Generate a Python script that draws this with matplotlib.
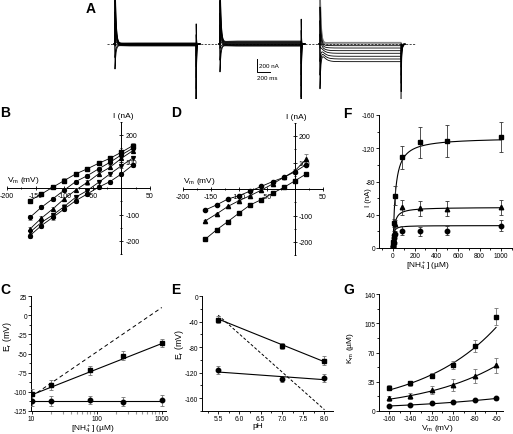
import numpy as np
import matplotlib
matplotlib.use("Agg")
import matplotlib.pyplot as plt
from matplotlib.ticker import MultipleLocator, FixedLocator, LogLocator, NullFormatter

plt.rcParams.update({"font.family": ["Liberation Sans", "DejaVu Sans"],
                     "font.size": 5.5, "axes.unicode_minus": False,
                     "mathtext.fontset": "custom",
                     "mathtext.rm": "Liberation Sans",
                     "mathtext.it": "Liberation Sans:italic",
                     "axes.linewidth": 0.7})

W, H = 513, 435

# ---- A: current traces (steady-state levels, nA) ---------------------------
A_T_ON = [231, 1848, 3388]           # ms, pulse onsets
A_DUR = 1250                         # ms
A_SS1 = [15, 10, 5, 0, -3, -7, -12, -18, -24, -30]
A_SS2 = [45, 35, 25, 15, 5, -3, -10, -18, -25, -32]
A_SS3 = [26, 15, 0, -26, -62, -103, -143, -189, -231, -272]
A_ON_UP = [1200, 1200, 1200]         # capacitive transient extremes
A_ON_DN = [-385, -430, -690]
A_OFF_UP = [340, 415, 277]
A_OFF_DN = [-1200, -1200, -1200]

# ---- B: I-V curves ---------------------------------------------------------
B_V = [-160, -140, -120, -100, -80, -60, -40, -20, 0, 20]
B_S1 = [-48, -23, 3, 28, 53, 72, 93, 112, 135, 160]
B_S2 = [-111, -73, -41, -8, 24, 46, 72, 97, 125, 150]
B_S3 = [-155, -114, -79, -41, -8, 21, 53, 78, 112, 141]
B_S4 = [-167, -130, -102, -70, -35, -10, 21, 53, 84, 113]
B_S5 = [-180, -142, -111, -79, -48, -23, 3, 24, 53, 87]
B_ERR = 8

# ---- D: I-V at different pH -----------------------------------------------
D_V = B_V
D_CIRC = [-79, -60, -38, -25, -8, 10, 28, 44, 65, 92]
D_TRI = [-120, -94, -66, -44, -25, -4, 19, 44, 69, 112]
D_SQ = [-189, -154, -123, -91, -60, -40, -16, 6, 31, 57]
D_TRI_ERR = [3, 3, 3, 3, 3, 3, 3, 4, 5, 20]

# ---- C: Er vs [NH4+] -------------------------------------------------------
C_X = [10, 20, 80, 250, 1000]
C_SQ = [-103, -91, -72, -53, -36]
C_SQ_ERR = [7, 6, 6, 6, 5]
C_CIRC = [-112, -112, -111, -113, -111]
C_CIRC_ERR = [6, 6, 5, 6, 7]
C_FIT_X = [10, 1000]
C_FIT_SQ = [-104, -37]
C_FIT_CIRC = [-112, -112]
C_NERNST = [-106, 10]

# ---- E: Er vs pH -----------------------------------------------------------
E_PH = [5.5, 7.0, 8.0]
E_SQ = [-37, -78, -101]
E_SQ_ERR = [5, 5, 7]
E_CIRC = [-116, -130, -128]
E_CIRC_ERR = [6, 4, 6]
E_FIT_X = [5.5, 8.0]
E_FIT_SQ = [-36, -103]
E_FIT_CIRC = [-119, -131]
E_NERNST = [-30, -178]

# ---- F: I vs [NH4+] --------------------------------------------------------
F_X = [1, 2.5, 5, 10, 20, 80, 250, 500, 1000]
F_SQ = [-3, -7, -14, -30, -63, -109, -127, -129, -133]
F_SQ_ERR = [1, 2, 3, 5, 11, 14, 19, 19, 18]
F_TRI = [-2, -5, -10, -18, -29, -49, -48, -47, -49]
F_TRI_ERR = [1, 1, 2, 3, 5, 9, 9, 9, 9]
F_CIRC = [-1, -3, -6, -12, -17, -21, -20, -21, -27]
F_CIRC_ERR = [0.5, 1, 1, 2, 3, 5, 5, 5, 7]
F_IMAX = [-133, -49, -27]
F_KM = [22, 12, 5]

# ---- G: Km vs Vm -----------------------------------------------------------
G_V = [-160, -140, -120, -100, -80, -60]
G_SQ = [28, 33, 42, 55, 78, 113]
G_SQ_ERR = [3, 3, 3, 5, 7, 10]
G_TRI = [15, 18, 25, 31, 42, 55]
G_TRI_ERR = [3, 4, 5, 7, 8, 9]
G_CIRC = [6, 7, 9, 11, 13, 15]
G_CIRC_ERR = [1, 1, 1, 1, 1, 1.5]
G_FIT_LO = [25, 14, 6]      # fit value at -160 mV
G_FIT_HI = [100, 54, 15]    # fit value at -60 mV


def box(fig, l, t, r, b):
    ax = fig.add_axes([l / W, 1 - b / H, (r - l) / W, (b - t) / H])
    ax._px = (l, t, r, b)
    return ax


def place_labels(ax, xl, yl):
    """Put x / y labels at pixel centres (from top-left of the figure)."""
    l, t, r, b = ax._px
    ax.xaxis.set_label_coords((xl[0] - l) / (r - l), (b - xl[1]) / (b - t))
    ax.yaxis.set_label_coords((yl[0] - l) / (r - l), (b - yl[1]) / (b - t))
    ax.xaxis.label.set_va("center")
    ax.yaxis.label.set_va("center")


def trace(t, t_on, iss, a_on, a_off):
    t_off = t_on + A_DUR
    y = np.zeros_like(t)
    on = (t >= t_on) & (t < t_off)
    s = t[on] - t_on
    y[on] = iss * (1 - np.exp(-s / 50)) + a_on * np.exp(-s / 15)
    off = t >= t_off
    s = t[off] - t_off
    y[off] = iss * np.exp(-s / 15) + a_off * np.exp(-s / 5)
    return y


def pts(ax, x, y, m, err=None, ms=3.0, ecol="0.45", line=True):
    if line:
        ax.plot(x, y, color="k", lw=0.6, zorder=2)
    ax.errorbar(x, y, yerr=err, fmt=m, color="k", ms=ms, ecolor=ecol,
                elinewidth=0.6, capsize=1.2, capthick=0.6, zorder=3)


def cross_axes(ax):
    ax.set_xlim(-200, 50)
    ax.set_ylim(-250, 250)
    ax.spines["bottom"].set_position(("data", 0))
    ax.spines["right"].set_position(("data", 0))
    ax.spines["top"].set_visible(False)
    ax.spines["left"].set_visible(False)
    ax.yaxis.tick_right()
    ax.set_xticks([-200, -150, -100, -50, 50])
    ax.xaxis.set_minor_locator(MultipleLocator(25))
    ax.set_yticks([-200, -100, 100, 200])
    ax.yaxis.set_minor_locator(MultipleLocator(50))
    ax.tick_params(which="both", direction="inout", width=0.6, labelsize=5,
                   pad=1)
    ax.tick_params(which="major", length=3.5)
    ax.tick_params(which="minor", length=2)
    ax.patch.set_visible(False)
    ax.text(3, 272, "I (nA)", ha="center", va="center", fontsize=6)
    ax.text(-200, 32, "V$_\\mathrm{m}$ (mV)", ha="left", va="center",
            fontsize=6)


def frame(ax):
    ax.spines["top"].set_visible(False)
    ax.spines["right"].set_visible(False)
    ax.tick_params(which="both", direction="out", width=0.6, labelsize=4.8,
                   pad=0.6)
    ax.tick_params(which="major", length=2.2)
    ax.tick_params(which="minor", length=1.3)
    ax.patch.set_visible(False)


def main():
    fig = plt.figure(figsize=(W / 100, H / 100), dpi=100)

    # ---- A ----------------------------------------------------------------
    ax = box(fig, 100, 0, 420, 100)
    ax.set_xlim(0, 320 * 15.4)
    ax.set_ylim(-55 * 15.4, 45 * 15.4)
    ax.axis("off")
    ax.plot([108, 4850], [0, 0], color="k", lw=0.5, ls=(0, (3, 2)), zorder=5)
    for g, (t_on, ss) in enumerate(zip(A_T_ON, [A_SS1, A_SS2, A_SS3])):
        a_on = np.linspace(A_ON_UP[g], A_ON_DN[g], len(ss))
        a_off = np.linspace(A_OFF_DN[g], A_OFF_UP[g], len(ss))
        t = np.arange(t_on - 15, t_on + A_DUR + 60, 1.0)
        for i, iss in enumerate(ss):
            col = "0.45" if (g == 2 and i < 3) else "k"
            ax.plot(t, trace(t, t_on, iss, a_on[i], a_off[i]), color=col,
                    lw=0.6)
    ax.plot([2418, 2418, 2618], [-231, -431, -431], color="k", lw=0.7)
    ax.text(2450, -330, "200 nA", fontsize=4.5, va="center", ha="left")
    ax.text(2418, -480, "200 ms", fontsize=4.5, va="top", ha="left")

    # ---- B ----------------------------------------------------------------
    ax = box(fig, 7, 122.75, 150, 255.25)
    cross_axes(ax)
    for s, m in zip([B_S1, B_S2, B_S3, B_S4, B_S5], ["s", "o", "^", "v", "o"]):
        pts(ax, B_V, s, m, err=B_ERR, ms=2.8)

    # ---- D ----------------------------------------------------------------
    ax = box(fig, 183, 123.75, 323, 256.25)
    cross_axes(ax)
    pts(ax, D_V, D_CIRC, "o", err=3, ms=3)
    pts(ax, D_V, D_TRI, "^", err=D_TRI_ERR, ms=3)
    pts(ax, D_V, D_SQ, "s", err=3, ms=3)

    # ---- F ----------------------------------------------------------------
    ax = box(fig, 379, 116, 512, 249)
    frame(ax)
    xf = np.linspace(0, 1000, 600)
    for imax, km in zip(F_IMAX, F_KM):
        ax.plot(xf, imax * xf / (km + xf), color="k", lw=0.8)
    pts(ax, F_X, F_SQ, "s", F_SQ_ERR, ms=3.2, ecol="0.2", line=False)
    pts(ax, F_X, F_TRI, "^", F_TRI_ERR, ms=3.2, ecol="0.2", line=False)
    pts(ax, F_X, F_CIRC, "o", F_CIRC_ERR, ms=3.2, ecol="0.2", line=False)
    ax.set_xlim(-130, 1100)
    ax.set_ylim(0, -160)
    ax.set_xticks(range(0, 1001, 200))
    ax.xaxis.set_minor_locator(MultipleLocator(100))
    ax.set_yticks([-160, -120, -80, -40, 0])
    ax.yaxis.set_minor_locator(MultipleLocator(20))
    ax.set_ylabel("I (nA)", fontsize=5.5)
    ax.set_xlabel("[NH$_4^+$] (\u00b5M)", fontsize=6)
    place_labels(ax, (428, 266), (369, 198))

    # ---- C ----------------------------------------------------------------
    ax = box(fig, 31, 297, 166, 412)
    frame(ax)
    ax.set_xscale("log")
    ax.plot(C_FIT_X, C_NERNST, color="k", lw=0.7, ls=(0, (4, 3)))
    ax.plot(C_FIT_X, C_FIT_SQ, color="k", lw=0.8)
    ax.plot(C_FIT_X, C_FIT_CIRC, color="k", lw=0.8)
    pts(ax, C_X, C_SQ, "s", C_SQ_ERR, ms=3.2, line=False)
    pts(ax, C_X, C_CIRC, "o", C_CIRC_ERR, ms=3.2, line=False)
    ax.set_xlim(9.8, 1160)
    ax.set_ylim(-125, 25)
    ax.xaxis.set_major_locator(FixedLocator([10, 100, 1000]))
    ax.set_xticklabels(["10", "100", "1000"])
    ax.xaxis.set_minor_locator(LogLocator(base=10, subs=np.arange(2, 10)))
    ax.xaxis.set_minor_formatter(NullFormatter())
    ax.tick_params(axis="x", which="minor", colors="0.6", width=0.8,
                   length=2)
    ax.set_yticks(range(-125, 26, 25))
    ax.yaxis.set_minor_locator(MultipleLocator(12.5))
    ax.set_ylabel("E$_\\mathrm{r}$ (mV)", fontsize=6.2)
    ax.set_xlabel("[NH$_4^+$] (\u00b5M)", fontsize=6)
    place_labels(ax, (93, 428.5), (8, 337))

    # ---- E ----------------------------------------------------------------
    ax = box(fig, 202, 297, 333, 412)
    frame(ax)
    ax.plot(E_FIT_X, E_NERNST, color="k", lw=0.7, ls=(0, (3, 2)))
    ax.plot(E_FIT_X, E_FIT_SQ, color="k", lw=0.8)
    ax.plot(E_FIT_X, E_FIT_CIRC, color="k", lw=0.8)
    pts(ax, E_PH, E_SQ, "s", E_SQ_ERR, ms=3.2, line=False)
    pts(ax, E_PH, E_CIRC, "o", E_CIRC_ERR, ms=3.2, line=False)
    ax.set_xlim(5.12, 8.2)
    ax.set_ylim(-180, 0)
    ax.set_xticks([5.5, 6.0, 6.5, 7.0, 7.5, 8.0])
    ax.xaxis.set_minor_locator(MultipleLocator(0.25))
    ax.set_yticks([-160, -120, -80, -40, 0])
    ax.yaxis.set_minor_locator(MultipleLocator(20))
    ax.set_ylabel("E$_\\mathrm{r}$ (mV)", fontsize=6.2)
    ax.set_xlabel("pH", fontsize=6)
    place_labels(ax, (258, 427), (179, 345))

    # ---- G ----------------------------------------------------------------
    ax = box(fig, 379, 295, 503, 412)
    frame(ax)
    vg = np.linspace(-160, -60, 200)
    for lo, hi in zip(G_FIT_LO, G_FIT_HI):
        ax.plot(vg, lo * (hi / lo) ** ((vg + 160) / 100), color="k", lw=0.8)
    pts(ax, G_V, G_SQ, "s", G_SQ_ERR, ms=3.2, line=False)
    pts(ax, G_V, G_TRI, "^", G_TRI_ERR, ms=3.2, line=False)
    pts(ax, G_V, G_CIRC, "o", G_CIRC_ERR, ms=3.2, line=False)
    ax.set_xlim(-169.3, -53.5)
    ax.set_ylim(0, 140)
    ax.set_xticks(range(-160, -59, 20))
    ax.xaxis.set_minor_locator(MultipleLocator(10))
    ax.set_yticks([0, 35, 70, 105, 140])
    ax.yaxis.set_minor_locator(MultipleLocator(17.5))
    ax.set_ylabel("K$_\\mathrm{m}$ (\u00b5M)", fontsize=6)
    ax.set_xlabel("V$_\\mathrm{m}$ (mV)", fontsize=6)
    place_labels(ax, (437, 429), (351, 348))

    # ---- panel letters ----------------------------------------------------
    for lab, x, y in [("A", 86, 9), ("B", 0, 113), ("D", 171, 113),
                      ("F", 343, 114), ("C", 0, 290), ("E", 171, 290),
                      ("G", 343, 290)]:
        fig.text(x / W, 1 - y / H, lab, fontsize=10, fontweight="bold",
                 ha="left", va="center")

    fig.savefig("out.png", dpi=100)


if __name__ == "__main__":
    main()
